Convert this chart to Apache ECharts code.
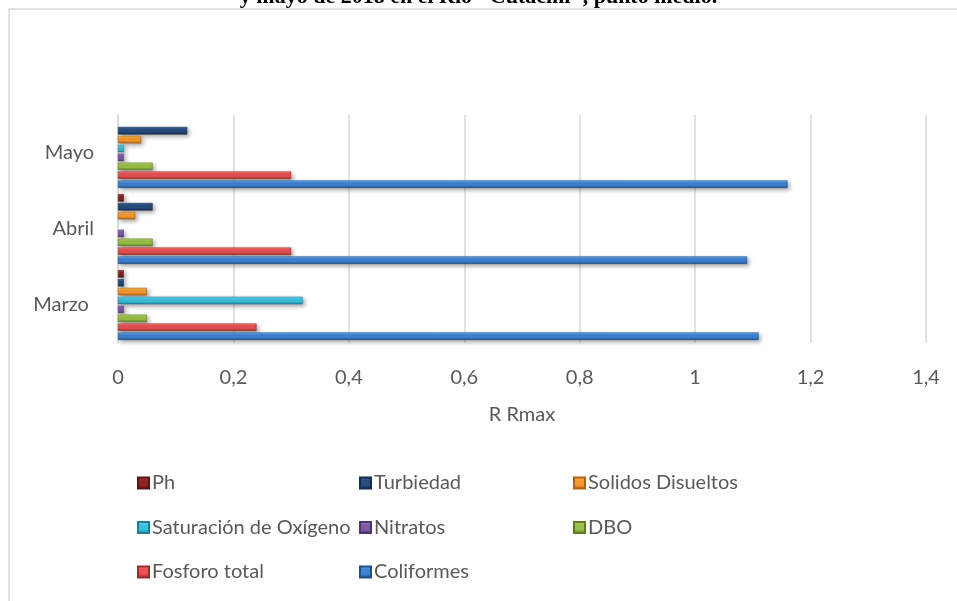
<!DOCTYPE html>
<html>
<head>
<meta charset="utf-8">
<style>
  html, body { margin: 0; padding: 0; background: #ffffff; }
  #chart { width: 957px; height: 601px; }
</style>
<script src="https://cdn.jsdelivr.net/npm/echarts@6/dist/echarts.min.js"></script>
</head>
<body>
<div id="chart"></div>
<script>
// Months shown on the category axis (bottom to top)
const months = ['Marzo ', 'Abril', 'Mayo'];

// R/Rmax ratio of each parameter, per month (Marzo, Abril, Mayo)
const ph          = [0.01, 0.01, 0];
const turbiedad   = [0.01, 0.06, 0.12];
const solidos     = [0.05, 0.03, 0.04];
const saturacion  = [0.32, 0, 0.01];
const nitratos    = [0.01, 0.01, 0.01];
const dbo         = [0.05, 0.06, 0.06];
const fosforo     = [0.24, 0.30, 0.30];
const coliformes  = [1.11, 1.09, 1.16];

// Value axis ticks
const xTicks = [0, 0.2, 0.4, 0.6, 0.8, 1, 1.2, 1.4];

const seriesNames = ['Ph', 'Turbiedad', 'Solidos Disueltos', 'Saturación de Oxígeno',
                     'Nitratos', 'DBO', 'Fosforo total', 'Coliformes'];
const seriesValues = [ph, turbiedad, solidos, saturacion, nitratos, dbo, fosforo, coliformes];

// light / base / dark tones for the bevelled bars
const palette = [
  ['#b84a4a', '#8c2323', '#5a1212'],
  ['#4d74a8', '#274c7d', '#152d4f'],
  ['#ffc070', '#f39a2e', '#b3620f'],
  ['#8ee3f5', '#3cc0e0', '#1f7d94'],
  ['#a98ccc', '#7c5aa6', '#4d3470'],
  ['#c5e07a', '#98bf45', '#5e7d22'],
  ['#ff8a8a', '#e55050', '#9a2a2a'],
  ['#86b8f0', '#3f82d4', '#1f4f8c']
];

const FONT = 'Lato, "Open Sans", sans-serif';
const TEXT_COLOR = '#595959';

function bevel(c) {
  return new echarts.graphic.LinearGradient(0, 0, 0, 1, [
    { offset: 0, color: c[0] },
    { offset: 0.3, color: c[1] },
    { offset: 0.65, color: c[1] },
    { offset: 1, color: c[2] }
  ]);
}

// a zero value gets no outline or shadow, so nothing is drawn for it
function toItem(v) {
  if (v === 0) {
    return { value: 0, itemStyle: { borderWidth: 0, shadowBlur: 0, shadowOffsetX: 0, shadowOffsetY: 0 } };
  }
  return v;
}

const series = seriesNames.map((name, i) => ({
  name: name,
  type: 'bar',
  data: seriesValues[i].map(toItem),
  barCategoryGap: '8%',
  barGap: '18%',
  itemStyle: {
    color: bevel(palette[i]),
    borderColor: palette[i][2],
    borderWidth: 0.6,
    shadowColor: 'rgba(0,0,0,0.35)',
    shadowBlur: 4,
    shadowOffsetX: 2,
    shadowOffsetY: 2
  }
}));

function legendCol(items, left) {
  return {
    orient: 'vertical',
    left: left,
    top: 468,
    itemWidth: 11,
    itemHeight: 11,
    itemGap: 24.5,
    icon: 'rect',
    data: items,
    textStyle: { color: TEXT_COLOR, fontSize: 20, fontFamily: FONT, padding: [0, 0, 0, -2] },
    itemStyle: { shadowBlur: 0, shadowOffsetX: 0, shadowOffsetY: 0 }
  };
}

const chart = echarts.init(document.getElementById('chart'), null, { renderer: 'canvas' });
chart.setOption({
  backgroundColor: '#ffffff',
  animation: false,
  graphic: [
    {
      type: 'text',
      left: 'center',
      top: -14,
      style: {
        text: 'y mayo de 2018 en el Río "Cutacini", punto medio.',
        font: 'bold 22px "Liberation Serif", "Times New Roman", serif',
        fill: '#000000'
      }
    },
    {
      type: 'rect',
      shape: { x: 9, y: 9, width: 1000, height: 700 },
      style: { fill: 'none', stroke: '#d9d9d9', lineWidth: 1.5 },
      silent: true
    }
  ],
  grid: { left: 118, right: 31, top: 115, bottom: 258 },
  xAxis: {
    type: 'value',
    min: 0,
    max: 1.4,
    interval: 0.2,
    name: 'R Rmax',
    nameLocation: 'middle',
    nameGap: 62,
    nameTextStyle: { color: TEXT_COLOR, fontSize: 20, fontFamily: FONT },
    axisLine: { show: false },
    axisTick: { show: false },
    axisLabel: {
      color: TEXT_COLOR,
      fontSize: 20,
      margin: 25,
      fontFamily: FONT,
      customValues: xTicks,
      formatter: v => String(Math.round(v * 10) / 10).replace('.', ',')
    },
    splitLine: { lineStyle: { color: '#d9d9d9', width: 1.5 } }
  },
  yAxis: {
    type: 'category',
    data: months,
    axisLine: { show: true, lineStyle: { color: '#d9d9d9', width: 1.5 } },
    axisTick: { show: false },
    axisLabel: { color: TEXT_COLOR, fontSize: 20, margin: 24, fontFamily: FONT }
  },
  legend: [
    legendCol(['Ph', 'Saturación de Oxígeno', 'Fosforo total'], 132),
    legendCol(['Turbiedad', 'Nitratos', 'Coliformes'], 354),
    legendCol(['Solidos Disueltos', 'DBO'], 568)
  ],
  series: series
});
</script>
</body>
</html>
